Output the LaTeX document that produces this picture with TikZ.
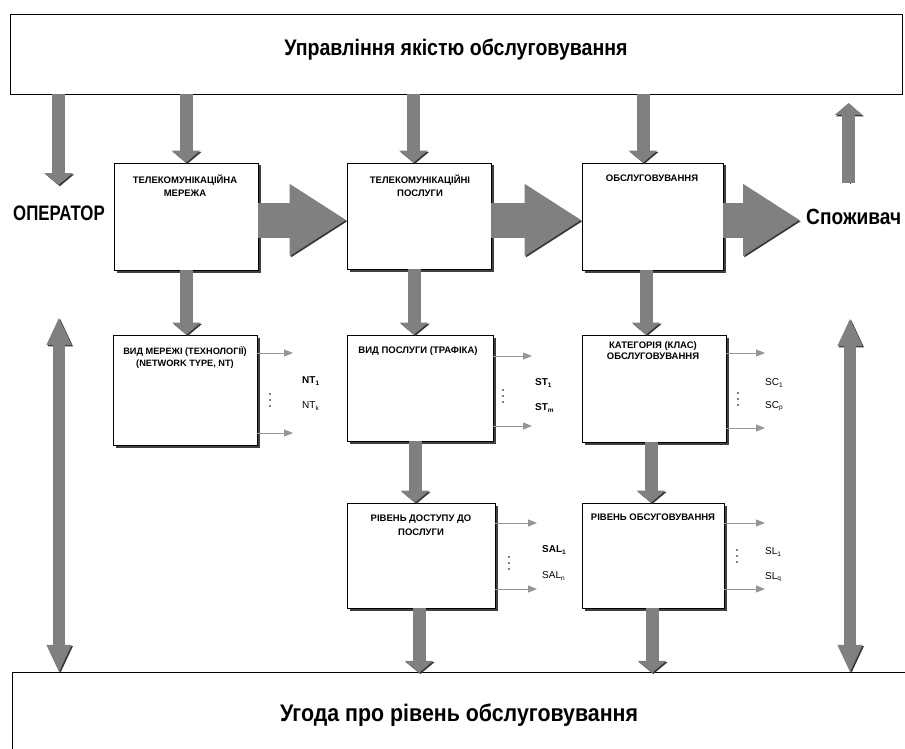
\documentclass[tikz,border=0pt]{standalone}
\usepackage{fontspec}
\setmainfont{Liberation Sans}
\newfontfamily\nbA{Liberation Sans Bold}[FakeStretch=0.8]
\newfontfamily\nbB{Liberation Sans Bold}[FakeStretch=0.87]
\newfontfamily\nbC{Liberation Sans Bold}[FakeStretch=0.89]
\usetikzlibrary{arrows.meta,shadows}
\definecolor{fatgray}{RGB}{128,128,128}
\definecolor{fatdark}{RGB}{55,55,55}
\definecolor{thingray}{RGB}{150,150,150}
\newcommand{\lsb}[1]{\raisebox{-0.3ex}{\fontsize{6.5}{6.5}\selectfont #1}}
\begin{document}
\begin{tikzpicture}[x=1pt,y=-1pt,
  box/.style={draw=black, line width=0.8pt, fill=white, inner sep=0pt,
    drop shadow={shadow xshift=2.5pt, shadow yshift=-2.5pt, fill=black!75, opacity=1}},
  bigbox/.style={draw=black, line width=0.8pt, fill=white, inner sep=0pt,
    drop shadow={shadow xshift=1.2pt, shadow yshift=-1.2pt, fill=black!75, opacity=1}},
  boxtxt/.style={font=\fontsize{9.5}{13}\selectfont\bfseries, align=center, inner sep=0pt},
  biglbl/.style={font=\nbA\fontsize{21}{24}\selectfont, inner sep=0pt},
  sublbl/.style={font=\fontsize{10}{12}\selectfont, anchor=west, inner sep=0pt},
  vdot/.style={fill=black, draw=none},
  shadowed/.style={preaction={draw=fatdark, transform canvas={xshift=1.3pt, yshift=-1.3pt}}},
  fatv/.style={draw=fatgray, line width=13pt, -{Triangle[width=28pt,length=12pt]}, shadowed},
  fatdbl/.style={draw=fatgray, line width=12pt, {Triangle[width=23pt,length=28pt]}-{Triangle[width=23pt,length=28pt]}, shadowed},
  fatup/.style={draw=fatgray, line width=13pt, -{Triangle[width=27pt,length=12pt]}, shadowed},
  fath/.style={draw=fatgray, line width=35pt, -{Triangle[width=68pt,length=57pt]}, shadowed},
  thinarr/.style={draw=thingray, line width=1pt, -{Triangle[width=7pt,length=9pt]}}
]
\newcommand{\vdotsat}[2]{\fill[vdot] (#1,#2-6) circle (0.95) (#1,#2) circle (0.95) (#1,#2+6) circle (0.95);}
\useasboundingbox (0,0) rectangle (905,749);
\fill[white] (0,0) rectangle (905,749);

% top and bottom bars
\node[bigbox, minimum width=892pt, minimum height=80pt] (top) at (456,54) {};
\node[biglbl, font=\nbB\fontsize{22.5}{24}\selectfont] (ttl) at (456,50) {Управління якістю обслуговування};
\node[inner sep=0pt, minimum width=892pt, minimum height=76pt] (bot) at (459,711) {};
\draw[line width=0.9pt] (bot.south west) -- (bot.north west) -- (bot.north east);
\node[biglbl, font=\nbC\fontsize{24}{26}\selectfont] (bottxt) at (459,715) {Угода про рівень обслуговування};

% side labels
\node[biglbl, anchor=west] (op) at (13,213) {ОПЕРАТОР};
\node[biglbl, anchor=west, font=\nbB\fontsize{22}{24}\selectfont] (cons) at (806,217) {Споживач};

% boxes
\node[box, minimum width=144pt, minimum height=107pt] (b1) at (186,216.5) {};
\node[box, minimum width=144pt, minimum height=106pt] (b2) at (419,216) {};
\node[box, minimum width=141pt, minimum height=107pt] (b3) at (652.5,216.5) {};
\node[box, minimum width=144pt, minimum height=110pt] (b4) at (185,390) {};
\node[box, minimum width=146pt, minimum height=106pt] (b5) at (420,388) {};
\node[box, minimum width=144pt, minimum height=107pt] (b6) at (654,388.5) {};
\node[box, minimum width=148pt, minimum height=105pt] (b7) at (421,555.5) {};
\node[box, minimum width=142pt, minimum height=105pt] (b8) at (653,555.5) {};

% box texts
\node[boxtxt] (t1) at (185,185.5) {ТЕЛЕКОМУНІКАЦІЙНА\\МЕРЕЖА};
\node[boxtxt] (t2) at (420,185.5) {ТЕЛЕКОМУНІКАЦІЙНІ\\ПОСЛУГИ};
\node[boxtxt] (t3) at (652,178) {ОБСЛУГОВУВАННЯ};
\node[boxtxt, font=\fontsize{9.2}{11.5}\selectfont\bfseries] (t4) at (185,357.5) {ВИД МЕРЕЖІ (ТЕХНОЛОГІЇ)\\(NETWORK TYPE, NT)};
\node[boxtxt] (t5) at (418,351) {ВИД ПОСЛУГИ (ТРАФІКА)};
\node[boxtxt, font=\fontsize{9.5}{11.5}\selectfont\bfseries] (t6) at (653,350.5) {КАТЕГОРІЯ (КЛАС)\\ОБСЛУГОВУВАННЯ};
\node[boxtxt, font=\fontsize{9.5}{14}\selectfont\bfseries] (t7) at (421,525) {РІВЕНЬ ДОСТУПУ ДО\\ПОСЛУГИ};
\node[boxtxt] (t8) at (653,517) {РІВЕНЬ ОБСУГОВУВАННЯ};

% vertical fat arrows from top bar
\draw[fatv] (58.5,0 |- top.south) -- (58.5,185) coordinate (opend);
\draw[fatv] (186,0 |- top.south) -- (186,0 |- b1.north);
\draw[fatv] (413.5,0 |- top.south) -- (413.5,0 |- b2.north);
\draw[fatv] (643,0 |- top.south) -- (643,0 |- b3.north);
\coordinate (upstart) at (848.5,183);
\draw[fatup] (upstart) -- (848.5,103);

% vertical fat arrows between rows
\draw[fatv] (186.5,0 |- b1.south) -- (186.5,0 |- b4.north);
\draw[fatv] (414,0 |- b2.south) -- (414,0 |- b5.north);
\draw[fatv] (646,0 |- b3.south) -- (646,0 |- b6.north);
\draw[fatv] (415,0 |- b5.south) -- (415,0 |- b7.north);
\draw[fatv] (651,0 |- b6.south) -- (651,0 |- b8.north);
\draw[fatv] (419,0 |- b7.south) -- (419,0 |- bot.north);
\draw[fatv] (652,0 |- b8.south) -- (652,0 |- bot.north);

% double arrows
\coordinate (ltop) at (59,317);
\coordinate (rtop) at (850,318);
\draw[fatdbl] (ltop) -- (59,0 |- bot.north);
\draw[fatdbl] (rtop) -- (850,0 |- bot.north);

% horizontal fat arrows
\draw[fath] (b1.east |- 0,220) -- (b2.west |- 0,220);
\draw[fath] (b2.east |- 0,220) -- (b3.west |- 0,220);
\draw[fath] (b3.east |- 0,220) -- (800,220) coordinate (hend);

% thin arrows, dots and labels
\draw[thinarr] (b4.east |- 0,353) -- (293,353);
\draw[thinarr] (b4.east |- 0,433) -- (293,433);
\vdotsat{270}{400}
\node[sublbl, font=\fontsize{10}{12}\selectfont\bfseries] (nt1) at (302,381) {NT\lsb{1}};
\node[sublbl] (ntk) at (302,406) {NT\lsb{k}};

\draw[thinarr] (b5.east |- 0,356) -- (532,356);
\draw[thinarr] (b5.east |- 0,426) -- (532,426);
\vdotsat{503}{396}
\node[sublbl, font=\fontsize{10}{12}\selectfont\bfseries] (st1) at (535,383) {ST\lsb{1}};
\node[sublbl, font=\fontsize{10}{12}\selectfont\bfseries] (stm) at (535,408) {ST\lsb{m}};

\draw[thinarr] (b6.east |- 0,353) -- (765,353);
\draw[thinarr] (b6.east |- 0,428) -- (765,428);
\vdotsat{738}{399}
\node[sublbl] (sc1) at (765,383) {SC\lsb{1}};
\node[sublbl] (scp) at (765,406) {SC\lsb{p}};

\draw[thinarr] (b7.east |- 0,523) -- (537,523);
\draw[thinarr] (b7.east |- 0,589) -- (537,589);
\vdotsat{509}{563}
\node[sublbl, font=\fontsize{10}{12}\selectfont\bfseries] (sal1) at (542,550) {SAL\lsb{1}};
\node[sublbl] (saln) at (542,576) {SAL\lsb{n}};

\draw[thinarr] (b8.east |- 0,523) -- (765,523);
\draw[thinarr] (b8.east |- 0,589) -- (765,589);
\vdotsat{737}{556}
\node[sublbl] (sl1) at (765,552) {SL\lsb{1}};
\node[sublbl] (slq) at (765,577) {SL\lsb{q}};
\end{tikzpicture}
\end{document}
